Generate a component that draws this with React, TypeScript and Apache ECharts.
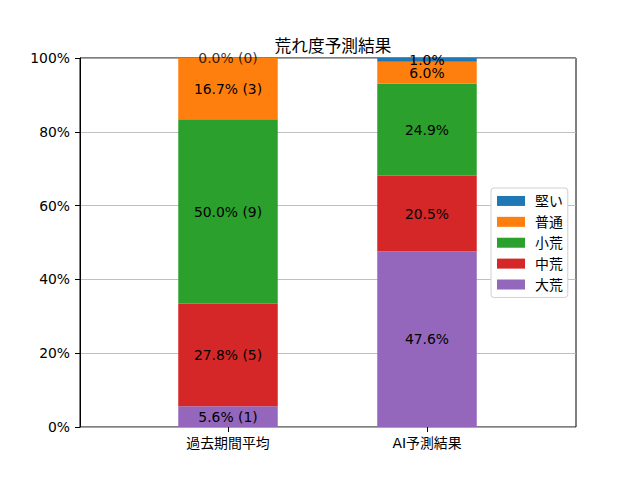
import React, { useEffect, useRef } from "react";
import * as echarts from "echarts";

const categories = ["過去期間平均", "AI予測結果"];
const seriesNames = ["大荒", "中荒", "小荒", "普通", "堅い"];
const pastPct = [5.6, 27.8, 50.0, 16.7, 0.0];
const pastCounts = [1, 5, 9, 3, 0];
const aiPct = [47.6, 20.5, 24.9, 6.0, 1.0];
const colors = ["#9467bd", "#d62728", "#2ca02c", "#ff7f0e", "#1f77b4"];
const legendOrder = ["堅い", "普通", "小荒", "中荒", "大荒"];

const FONT = "'DejaVu Sans', 'Noto Sans CJK JP', sans-serif";
const FS = 13.9;

const labelText = (cat: number, i: number) =>
  cat === 0
    ? `${pastPct[i].toFixed(1)}% (${pastCounts[i]})`
    : `${aiPct[i].toFixed(1)}%`;

export default function App() {
  const ref = useRef<HTMLDivElement>(null);
  useEffect(() => {
    const chart = echarts.init(ref.current!, null, { renderer: "svg" });
    const labelStyle = {
      color: "#000",
      fontFamily: FONT,
      fontSize: FS,
    };
    const series: any[] = seriesNames.map((name, i) => ({
      name,
      type: "bar",
      stack: "total",
      xAxisIndex: 1,
      yAxisIndex: 1,
      barWidth: "50%",
      itemStyle: { color: colors[i] },
      label: {
        show: true,
        position: "inside",
        ...labelStyle,
        formatter: (p: any) => labelText(p.dataIndex, i),
      },
      data: [pastPct[i], aiPct[i]],
    }));
    // labels for zero-height segments (ECharts does not label them)
    const zeroPoints: any[] = [];
    [pastPct, aiPct].forEach((vals, cat) => {
      vals.forEach((v, i) => {
        if (v === 0) {
          const cum = vals.slice(0, i + 1).reduce((a, b) => a + b, 0);
          zeroPoints.push({ value: [cat, Math.min(100, cum)], text: labelText(cat, i) });
        }
      });
    });
    series.push({
      type: "scatter",
      xAxisIndex: 1,
      yAxisIndex: 1,
      symbolSize: 1,
      itemStyle: { color: "transparent" },
      silent: true,
      clip: false,
      z: 5,
      label: {
        show: true,
        position: "inside",
        ...labelStyle,
        formatter: (p: any) => p.data.text,
      },
      data: zeroPoints,
    });
    chart.setOption({
      animation: false,
      title: {
        text: "荒れ度予測結果",
        left: 328,
        textAlign: "center",
        top: 33,
        textStyle: { fontFamily: FONT, fontSize: 16.7, fontWeight: "normal", color: "#000" },
      },
      legend: {
        data: legendOrder,
        orient: "vertical",
        left: 491,
        top: 188,
        itemWidth: 28,
        itemHeight: 10,
        itemGap: 7,
        padding: [6, 5, 6, 6],
        borderColor: "#d0d0d0",
        borderWidth: 1,
        borderRadius: 3,
        backgroundColor: "#fff",
        icon: "rect",
        textStyle: { fontFamily: FONT, fontSize: FS, color: "#000", padding: [0, 0, 0, 5] },
      },
      grid: [
        {
          left: 80,
          right: 64,
          top: 58,
          bottom: 53,
          show: true,
          borderColor: "#000",
          borderWidth: 1,
          backgroundColor: "transparent",
        },
        { left: 128.5, right: 113.5, top: 58, bottom: 53 },
      ],
      xAxis: [
        {
          gridIndex: 0,
          type: "value",
          min: 0,
          max: 1,
          show: false,
        },
        {
          gridIndex: 1,
          type: "category",
          data: categories,
          axisLine: { show: false },
          axisTick: { show: true, alignWithLabel: true, length: 5, lineStyle: { color: "#000" } },
          axisLabel: { fontFamily: FONT, fontSize: FS, color: "#000", margin: 9 },
        },
      ],
      yAxis: [
        {
          gridIndex: 0,
          type: "value",
          min: 0,
          max: 100,
          interval: 20,
          axisLine: { show: true, onZero: false, lineStyle: { color: "#000" } },
          axisTick: { show: true, length: 5, lineStyle: { color: "#000" } },
          axisLabel: {
            formatter: "{value}%",
            fontFamily: FONT,
            fontSize: FS,
            color: "#000",
            margin: 10,
          },
          splitLine: { show: true, lineStyle: { color: "#b0b0b0", width: 0.8 } },
        },
        {
          gridIndex: 1,
          type: "value",
          min: 0,
          max: 100,
          show: false,
          splitLine: { show: false },
        },
      ],
      series,
    });
    return () => chart.dispose();
  }, []);
  return (
    <div
      ref={ref}
      style={{ position: "fixed", left: 0, top: 0, width: 640, height: 480, background: "#fff" }}
    />
  );
}
